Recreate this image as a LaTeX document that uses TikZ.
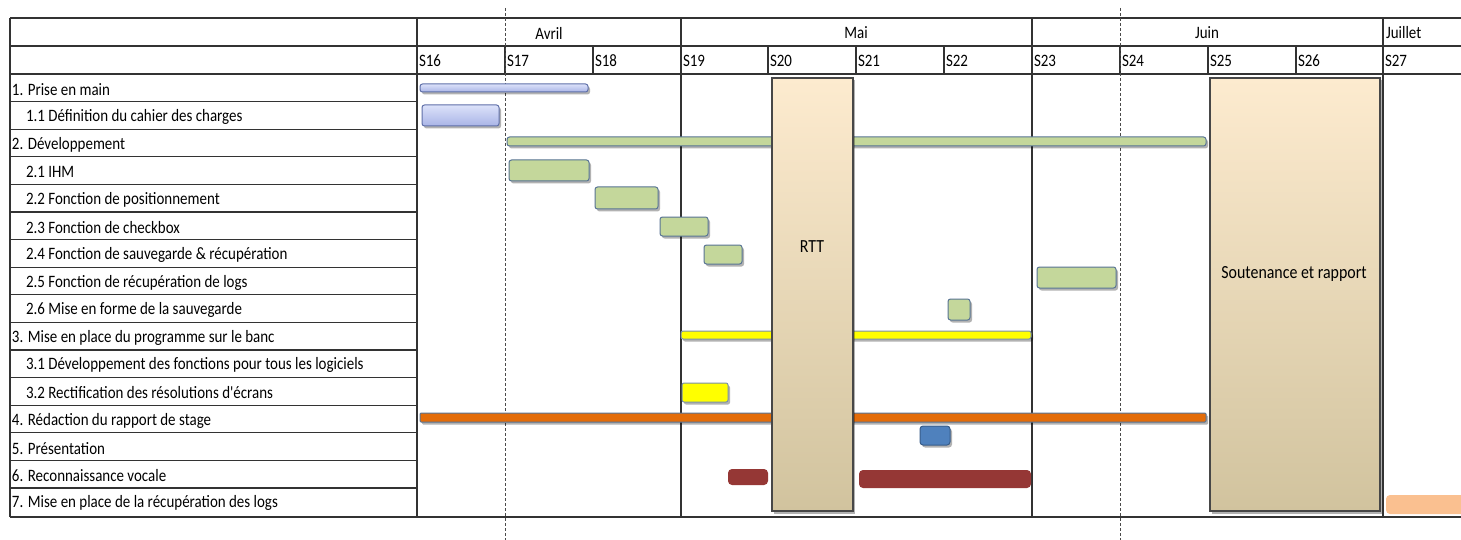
\documentclass[tikz,border=0pt]{standalone}
\usepackage{fontspec}
\setmainfont{Carlito}
\newfontfamily\narrowfont[FakeStretch=0.86]{Carlito}
\usetikzlibrary{shadows}
\definecolor{gridc}{HTML}{333333}
\definecolor{dashc}{HTML}{4A4A4A}
\definecolor{blueTop}{HTML}{DCE2FA}
\definecolor{blueBot}{HTML}{A9B4E6}
\definecolor{blueDraw}{HTML}{5F6FA8}
\definecolor{greenFill}{HTML}{C4D79B}
\definecolor{barDraw}{HTML}{587494}
\definecolor{yel}{HTML}{FFFF00}
\definecolor{orangeFill}{HTML}{E36C09}
\definecolor{presFill}{HTML}{4F81BD}
\definecolor{presDraw}{HTML}{385D8A}
\definecolor{redFill}{HTML}{953735}
\definecolor{peach}{HTML}{FAC090}
\definecolor{boxTop}{HTML}{FDEBCF}
\definecolor{boxBot}{HTML}{D1C39E}
\newcommand\gbar[6]{\node[#6, anchor=north west, minimum width={(#3-#2)*1pt}, minimum height={(#5-#4)*1pt}] (#1) at (#2,#4) {};}
\begin{document}
\begin{tikzpicture}[x=1pt,y=-1pt,
  every node/.style={inner sep=0pt, outer sep=0pt},
  grid/.style={draw=gridc, line width=1.3pt},
  dashline/.style={draw=dashc, line width=1pt, dash pattern=on 3pt off 2pt},
  txt/.style={font=\narrowfont\fontsize{17.4}{19}\selectfont, text=black},
  lab/.style={txt, anchor=west},
  wk/.style={txt, anchor=west},
  mon/.style={txt},
  big/.style={font=\narrowfont\fontsize{18.5}{21}\selectfont, text=black},
  shad/.style={drop shadow={shadow xshift=2pt, shadow yshift=-2.5pt, opacity=0.3, fill=black}},
  bluebar/.style={rectangle, rounded corners=2.5pt, draw=blueDraw, line width=1pt, top color=blueTop, bottom color=blueBot, shad},
  greenbar/.style={rectangle, rounded corners=2.5pt, draw=barDraw, line width=1pt, fill=greenFill, shad},
  yelbar/.style={rectangle, rounded corners=2pt, draw=barDraw!80, line width=1pt, fill=yel, shad},
  orbar/.style={rectangle, rounded corners=1pt, draw=barDraw, line width=1pt, fill=orangeFill, shad},
  presbar/.style={rectangle, rounded corners=3pt, draw=presDraw, line width=1pt, fill=presFill, shad},
  redbar/.style={rectangle, rounded corners=4pt, fill=redFill},
  peachbar/.style={rectangle, rounded corners=4pt, fill=peach},
  bigbox/.style={rectangle, draw=gridc!90, line width=1.2pt, top color=boxTop, bottom color=boxBot, shad}
]
\useasboundingbox (0,0) rectangle (1461,540);
\fill[white] (0,0) rectangle (1461,540);

% grid
\draw[grid] (10,18) -- (1461,18);
\draw[grid] (10,46) -- (1461,46);
\draw[grid] (10,74) -- (1461,74);
\draw[grid] (10,517) -- (1461,517);
\draw[grid] (10,18) -- (10,517);
\draw[grid] (417,18) -- (417,517);
\foreach \k in {1,...,15} \draw[grid] (10,{74+27.6*\k}) -- (417,{74+27.6*\k});
\foreach \x in {681,1032,1383} \draw[grid] (\x,18) -- (\x,46);
\foreach \x in {505,593,681,768,856,944,1032,1120,1208,1296,1383} \draw[grid] (\x,46) -- (\x,74);
\foreach \x in {681,1032,1383} \draw[grid] (\x,74) -- (\x,517);
\draw[dashline] (505,8) -- (505,540);
\draw[dashline] (1120,8) -- (1120,540);

% months
\node[mon] (avril) at (549,33) {Avril};
\node[mon] (mai) at (856,33) {Mai};
\node[mon] (juin) at (1207,33) {Juin};
\node[mon, anchor=west] (juillet) at (1386,33) {Juillet};

% weeks
\node[wk] (s16) at (419,61) {S16};
\node[wk] (s17) at (507,61) {S17};
\node[wk] (s18) at (595,61) {S18};
\node[wk] (s19) at (683,61) {S19};
\node[wk] (s20) at (770,61) {S20};
\node[wk] (s21) at (858,61) {S21};
\node[wk] (s22) at (946,61) {S22};
\node[wk] (s23) at (1034,61) {S23};
\node[wk] (s24) at (1122,61) {S24};
\node[wk] (s25) at (1210,61) {S25};
\node[wk] (s26) at (1298,61) {S26};
\node[wk] (s27) at (1385,61) {S27};

% task labels
\node[lab] (l1) at (12,{75.5+27.6*0.5}) {1. Prise en main};
\node[lab] (l2) at (26,{75.5+27.6*1.5}) {1.1 Définition du cahier des charges};
\node[lab] (l3) at (12,{75.5+27.6*2.5}) {2. Développement};
\node[lab] (l4) at (26,{75.5+27.6*3.5}) {2.1 IHM};
\node[lab] (l5) at (26,{75.5+27.6*4.5}) {2.2 Fonction de positionnement};
\node[lab] (l6) at (26,{75.5+27.6*5.5}) {2.3 Fonction de checkbox};
\node[lab] (l7) at (26,{75.5+27.6*6.5}) {2.4 Fonction de sauvegarde \& récupération};
\node[lab] (l8) at (26,{75.5+27.6*7.5}) {2.5 Fonction de récupération de logs};
\node[lab] (l9) at (26,{75.5+27.6*8.5}) {2.6 Mise en forme de la sauvegarde};
\node[lab] (l10) at (12,{75.5+27.6*9.5}) {3. Mise en place du programme sur le banc};
\node[lab] (l11) at (26,{75.5+27.6*10.5}) {3.1 Développement des fonctions pour tous les logiciels};
\node[lab] (l12) at (26,{75.5+27.6*11.5}) {3.2 Rectification des résolutions d'écrans};
\node[lab] (l13) at (12,{75.5+27.6*12.5}) {4. Rédaction du rapport de stage};
\node[lab] (l14) at (12,{75.5+27.6*13.5}) {5. Présentation};
\node[lab] (l15) at (12,{75.5+27.6*14.5}) {6. Reconnaissance vocale};
\node[lab] (l16) at (12,{75.5+27.6*15.5}) {7. Mise en place de la récupération des logs};

% bars
\gbar{b1}{420}{588}{84}{92}{bluebar}
\gbar{b11}{422}{499}{105}{126}{bluebar}
\gbar{b2}{507}{1206}{137}{146}{greenbar}
\gbar{b21}{509}{589}{160}{181}{greenbar}
\gbar{b22}{595}{658}{187}{209}{greenbar}
\gbar{b23}{660}{708}{217}{236}{greenbar}
\gbar{b24}{704}{742}{245}{264}{greenbar}
\gbar{b25}{1037}{1116}{267}{288}{greenbar}
\gbar{b26}{948}{970}{299}{320}{greenbar}
\gbar{b3}{681}{1031}{331}{339}{yelbar}
\gbar{b32}{682}{728}{383}{402}{yelbar}
\gbar{b4}{420}{1206}{413}{422}{orbar}
\gbar{b5}{920}{950}{426}{445}{presbar}
\gbar{b6a}{728}{768}{469}{485}{redbar}
\gbar{b6b}{859}{1031}{470}{488}{redbar}
\gbar{b7}{1386}{1475}{495}{514}{peachbar}

% big boxes
\gbar{rtt}{772}{853}{78}{511}{bigbox}
\node[big] (rttlab) at (812,247) {RTT};
\gbar{sout}{1210}{1380}{78}{511}{bigbox}
\node[big] (soutlab) at (1294,274) {Soutenance et rapport};
\end{tikzpicture}
\end{document}
